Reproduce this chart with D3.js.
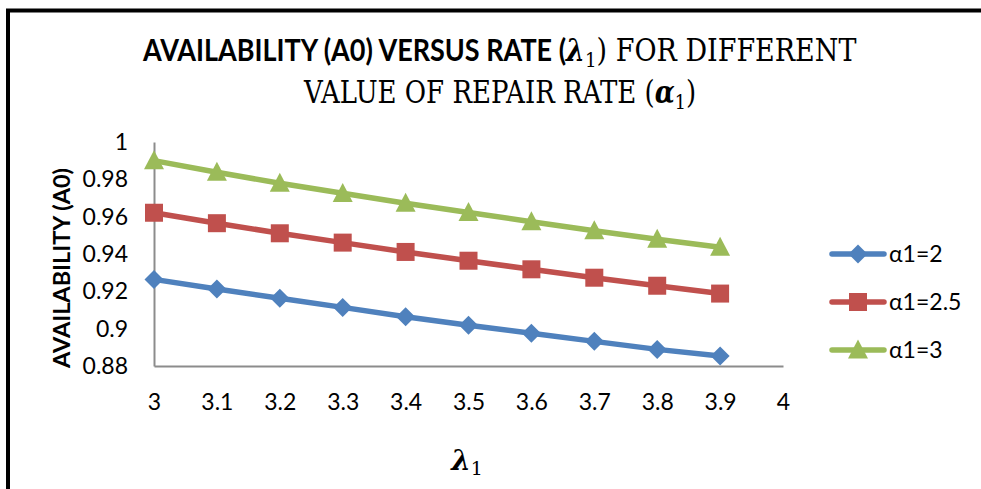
<!DOCTYPE html>
<html>
<head>
<meta charset="utf-8">
<script src="https://cdn.jsdelivr.net/npm/d3@7"></script>
<style>
  html, body { margin: 0; padding: 0; background: #fff; }
  svg { display: block; }
</style>
</head>
<body>
<svg id="chart" width="981" height="489"></svg>
<script>
// ---- data ----
const lambdaValues = [3, 3.1, 3.2, 3.3, 3.4, 3.5, 3.6, 3.7, 3.8, 3.9];
const seriesNames = ["α1=2", "α1=2.5", "α1=3"];
const alpha2 = [0.9264, 0.9213, 0.9163, 0.9114, 0.9064, 0.9018, 0.8975, 0.8932, 0.8889, 0.8854];
const alpha25 = [0.9621, 0.9565, 0.9511, 0.9461, 0.9411, 0.9364, 0.9318, 0.9273, 0.9230, 0.9188];
const alpha3 = [0.9900, 0.9838, 0.9779, 0.9725, 0.9672, 0.9622, 0.9573, 0.9525, 0.9479, 0.9436];
const xTickValues = [3, 3.1, 3.2, 3.3, 3.4, 3.5, 3.6, 3.7, 3.8, 3.9, 4];
const xTickLabels = ["3", "3.1", "3.2", "3.3", "3.4", "3.5", "3.6", "3.7", "3.8", "3.9", "4"];
const yTickValues = [0.88, 0.9, 0.92, 0.94, 0.96, 0.98, 1];
const yTickLabels = ["0.88", "0.9", "0.92", "0.94", "0.96", "0.98", "1"];

const colors = ["#4F81BD", "#C0504D", "#9BBB59"];
const markers = ["diamond", "square", "triangle"];
const series = [alpha2, alpha25, alpha3].map((vals, i) => ({
  name: seriesNames[i], color: colors[i], marker: markers[i],
  points: vals.map((v, j) => ({ x: lambdaValues[j], y: v }))
}));

const svg = d3.select("#chart");
const sans = "Lato, 'Open Sans', sans-serif";
const serif = "'DejaVu Serif', 'Liberation Serif', serif";

// outer border
svg.append("rect").attr("x", 8).attr("y", 10.5).attr("width", 1000).attr("height", 500)
  .attr("fill", "none").attr("stroke", "#000").attr("stroke-width", 4);

const x = d3.scaleLinear().domain([3, 4]).range([154, 783]);
const y = d3.scaleLinear().domain([0.88, 1]).range([366, 142]);

// axes
const yAxis = d3.axisLeft(y).tickValues(yTickValues)
  .tickFormat((d, i) => yTickLabels[i]).tickSizeInner(0).tickSizeOuter(0).tickPadding(26);
const xAxis = d3.axisBottom(x).tickValues(xTickValues)
  .tickFormat((d, i) => xTickLabels[i]).tickSizeInner(0).tickSizeOuter(0).tickPadding(28);

const gy = svg.append("g").attr("transform", `translate(${x(3)},0)`).call(yAxis);
const gx = svg.append("g").attr("transform", `translate(0,${y(0.88)})`).call(xAxis);
[gx, gy].forEach(g => {
  g.select(".domain").attr("stroke", "#8c8c8c").attr("stroke-width", 2);
  g.selectAll("text").attr("font-family", sans).attr("font-size", 23).attr("fill", "#000");
});

function drawMarker(g, type, color, cx, cy) {
  if (type === "diamond") {
    const r = 9.5;
    g.append("path").attr("d", `M${cx},${cy - r}L${cx + r},${cy}L${cx},${cy + r}L${cx - r},${cy}Z`).attr("fill", color);
  } else if (type === "square") {
    const s = 18;
    g.append("rect").attr("x", cx - s / 2).attr("y", cy - s / 2).attr("width", s).attr("height", s).attr("fill", color);
  } else {
    const w = 20, h = 19;
    g.append("path").attr("d", `M${cx},${cy - h * 0.55}L${cx + w / 2},${cy + h * 0.45}L${cx - w / 2},${cy + h * 0.45}Z`).attr("fill", color);
  }
}

const line = d3.line().x(d => x(d.x)).y(d => y(d.y));
series.forEach(s => {
  const g = svg.append("g");
  g.append("path").attr("d", line(s.points)).attr("fill", "none")
    .attr("stroke", s.color).attr("stroke-width", 5.5).attr("stroke-linejoin", "round");
  s.points.forEach(p => drawMarker(g, s.marker, s.color, x(p.x), y(p.y)));
});

// legend
const legendY = [254, 302, 350];
series.forEach((s, i) => {
  const g = svg.append("g");
  g.append("line").attr("x1", 832).attr("x2", 884).attr("y1", legendY[i]).attr("y2", legendY[i])
    .attr("stroke", s.color).attr("stroke-width", 5.5).attr("stroke-linecap", "round");
  drawMarker(g, s.marker, s.color, 858, legendY[i]);
  g.append("text").attr("x", 889).attr("y", legendY[i]).attr("dy", "0.36em")
    .attr("font-family", sans).attr("font-size", 23).attr("fill", "#000").text(s.name);
});

// y axis title
svg.append("text").attr("transform", "translate(70,268) rotate(-90)")
  .attr("text-anchor", "middle").attr("font-family", sans).attr("font-weight", "bold")
  .attr("font-size", 22).attr("textLength", 200).attr("lengthAdjust", "spacingAndGlyphs")
  .attr("fill", "#000").text("AVAILABILITY (A0)");

// x axis title
const xt = svg.append("text").attr("x", 467).attr("y", 470).attr("text-anchor", "middle")
  .attr("font-family", serif).attr("fill", "#000");
xt.append("tspan").attr("font-size", 28).attr("font-weight", "bold").attr("font-style", "italic").text("λ");
xt.append("tspan").attr("font-size", 19).attr("dy", 5).text("1");

// title lines: natural text, then horizontally scaled to the reference width
function fitLine(textSel, x0, targetW) {
  const w = textSel.node().getBBox().width;
  const sx = targetW / w;
  textSel.attr("transform", `translate(${x0},0) scale(${sx},1) translate(${-x0},0)`);
}

const t1 = svg.append("text").attr("x", 143).attr("y", 61).attr("fill", "#000");
t1.append("tspan").attr("font-family", sans).attr("font-weight", "bold").attr("font-size", 31)
  .text("AVAILABILITY (A0) VERSUS RATE (");
t1.append("tspan").attr("font-family", serif).attr("font-weight", "bold").attr("font-style", "italic")
  .attr("font-size", 31).text("λ");
t1.append("tspan").attr("font-family", serif).attr("font-size", 21).attr("dy", 6).text("1");
t1.append("tspan").attr("font-family", serif).attr("font-size", 31).attr("dy", -6).text(") FOR DIFFERENT");
fitLine(t1, 143, 715);

const t2 = svg.append("text").attr("x", 304).attr("y", 103).attr("fill", "#000");
t2.append("tspan").attr("font-family", serif).attr("font-size", 31).text("VALUE OF REPAIR RATE (");
t2.append("tspan").attr("font-family", serif).attr("font-weight", "bold").attr("font-style", "italic")
  .attr("font-size", 31).text("α");
t2.append("tspan").attr("font-family", serif).attr("font-size", 21).attr("dy", 6).text("1");
t2.append("tspan").attr("font-family", serif).attr("font-size", 31).attr("dy", -6).text(")");
fitLine(t2, 304, 393);
</script>
</body>
</html>
